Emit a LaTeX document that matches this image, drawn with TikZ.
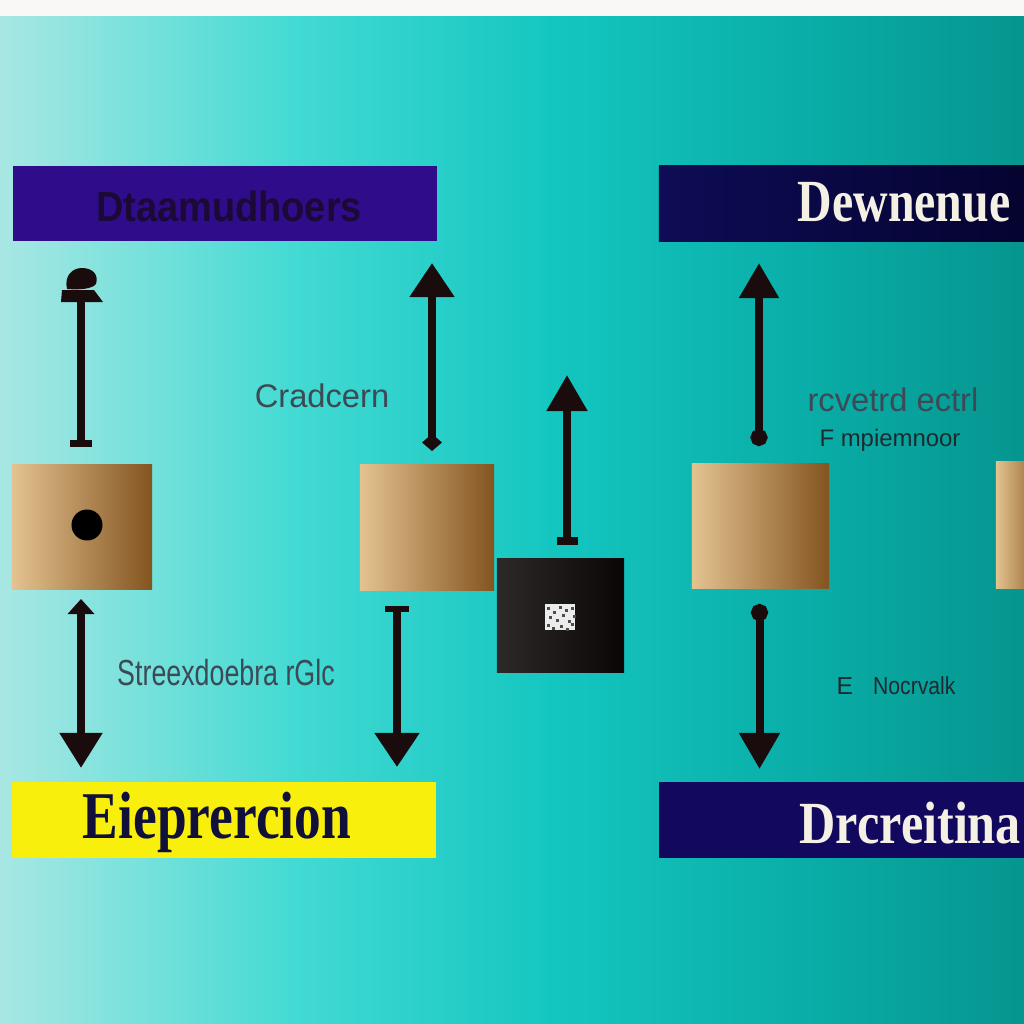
\documentclass[tikz,border=0pt]{standalone}
\usepackage{fontspec}
\usepackage{graphicx}
\setmainfont{Liberation Serif}
\setsansfont{Liberation Sans}
\usetikzlibrary{arrows.meta}
\definecolor{bgA}{HTML}{A8E7E3}
\definecolor{bgB}{HTML}{42DAD3}
\definecolor{bgC}{HTML}{14C6C0}
\definecolor{bgD}{HTML}{0AAEA8}
\definecolor{bgE}{HTML}{06958F}
\definecolor{stripW}{HTML}{FAF8F7}
\definecolor{purpleBox}{HTML}{2F0C8A}
\definecolor{navyL}{HTML}{0E0C55}
\definecolor{navyR}{HTML}{04032E}
\definecolor{navyB}{HTML}{12085E}
\definecolor{yellowBox}{HTML}{F9EF0C}
\definecolor{tanL}{HTML}{E4C390}
\definecolor{tanM}{HTML}{B68D57}
\definecolor{tanR}{HTML}{835420}
\definecolor{blkL}{HTML}{2E2929}
\definecolor{blkR}{HTML}{0A0606}
\definecolor{arrowC}{HTML}{1A0C0C}
\definecolor{labC}{HTML}{3C4A55}
\definecolor{labD}{HTML}{1E2A30}
\definecolor{txtDark}{HTML}{1B0A36}
\definecolor{txtNavy}{HTML}{10103A}
\definecolor{txtCream}{HTML}{F4F0E4}
\pgfdeclarehorizontalshading{bgshade}{100bp}{color(0bp)=(bgA); color(25bp)=(bgA); color(39.5bp)=(bgB); color(52bp)=(bgC); color(64bp)=(bgD); color(75bp)=(bgE); color(100bp)=(bgE)}
\tikzset{
  conn/.style={draw=arrowC, line width=0.08cm},
  tanbox/.style={rectangle, inner sep=0, left color=tanL, middle color=tanM, right color=tanR},
  titlebox/.style={rectangle, inner sep=0, minimum height=0.755cm},
  lab/.style={inner sep=0, text=labC, font=\sffamily},
}
\begin{document}
\begin{tikzpicture}[x=0.01cm,y=-0.01cm]
\useasboundingbox (0,0) rectangle (1024,1024);
\clip (0,0) rectangle (1024,1024);
\fill[stripW] (0,0) rectangle (1024,16);
\shade[shading=bgshade] (0,16) rectangle (1024,1024);

% title boxes
\node[titlebox, fill=purpleBox, minimum width=4.24cm] (tl) at (225,203.5) {};
\node[inner sep=0, anchor=base, text=txtDark, font=\sffamily\bfseries\fontsize{12}{12}\selectfont] (tltext) at (229,221) {\scalebox{0.9}[1]{Dtaamudhoers}};
\node[titlebox, left color=navyL, right color=navyR, minimum width=3.85cm] (tr) at (851.5,203.5) {};
\node[inner sep=0, anchor=base west, text=txtCream, font=\bfseries\fontsize{17}{17}\selectfont] (trtext) at (797,221) {\scalebox{0.8}[1]{Dewnenue}};
\node[titlebox, fill=yellowBox, minimum width=4.24cm, minimum height=0.76cm] (bl) at (224,820) {};
\node[inner sep=0, anchor=base, text=txtNavy, font=\bfseries\fontsize{19}{19}\selectfont] (bltext) at (217,838) {\scalebox{0.8}[1]{Eieprercion}};
\node[titlebox, fill=navyB, minimum width=3.85cm, minimum height=0.76cm] (br) at (851.5,820) {};
\node[inner sep=0, anchor=base west, text=txtCream, font=\bfseries\fontsize{17}{17}\selectfont] (brtext) at (799,843) {\scalebox{0.84}[1]{Drcreitina}};

% tan boxes
\node[tanbox, minimum width=1.40cm, minimum height=1.24cm] (t1) at (82,527) {};
\node[circle, fill=black, inner sep=0, minimum size=0.31cm] (dot) at (87,525) {};
\node[tanbox, minimum width=1.34cm, minimum height=1.25cm] (t2) at (427,527.5) {};
\node[tanbox, minimum width=1.37cm, minimum height=1.24cm] (t3) at (760.5,526) {};
\node[tanbox, minimum width=0.50cm, minimum height=1.26cm] (t4) at (1021,525) {};

% black box with small code
\node[rectangle, inner sep=0, left color=blkL, right color=blkR, minimum width=1.27cm, minimum height=1.13cm] (bk) at (560.5,615.5) {};
\node[rectangle, inner sep=0, fill=white!85!gray, minimum width=0.30cm, minimum height=0.25cm] (qr) at (560,617) {};
\foreach \i/\j in {547/607,553/611,559/606,565/609,571/607,549/616,556/619,562/614,568/620,573/615,547/624,552/627,560/625,566/628,571/623}
  \fill[black!70] (\i,\j) rectangle ++(3,3);

% arrows
\coordinate (a1s) at (81,447); \coordinate (a1e) at (81,300);
\draw[conn, {Rectangle[width=0.22cm,length=0.07cm]}-] (a1s) -- (a1e);
\fill[arrowC] (61,302) -- (103,302) -- (94,290) -- (62,290) -- cycle;
\fill[arrowC] (67,289) .. controls (64,276) and (72,268) .. (82,268) .. controls (92,268) and (99,274) .. (96,284) .. controls (92,289) and (80,290) .. (67,289) -- cycle;

\coordinate (a2s) at (432,451); \coordinate (a2e) at (432,263);
\draw[conn, {Diamond[width=0.2cm,length=0.17cm]}-{Triangle[width=0.43cm,length=0.34cm]}] (a2s) -- (a2e);

\coordinate (a3s) at (567,545); \coordinate (a3e) at (567,375);
\draw[conn, {Rectangle[width=0.21cm,length=0.08cm]}-{Triangle[width=0.39cm,length=0.36cm]}] (a3s) -- (a3e);

\coordinate (a4s) at (759,446); \coordinate (a4e) at (759,263);
\draw[conn, {Circle[length=0.17cm]}-{Triangle[width=0.38cm,length=0.35cm]}] (a4s) -- (a4e);

\coordinate (a5s) at (81,599); \coordinate (a5e) at (81,768);
\draw[conn, {Triangle[width=0.26cm,length=0.15cm]}-{Triangle[width=0.41cm,length=0.35cm]}] (a5s) -- (a5e);

\coordinate (a6s) at (397,606); \coordinate (a6e) at (397,767);
\draw[conn, {Rectangle[width=0.24cm,length=0.06cm]}-{Triangle[width=0.43cm,length=0.34cm]}] (a6s) -- (a6e);

\coordinate (a7s) at (759.5,604); \coordinate (a7e) at (759.5,769);
\draw[conn, {Circle[length=0.17cm]}-{Triangle[width=0.39cm,length=0.36cm]}] (a7s) -- (a7e);

% labels
\node[lab, font=\sffamily\fontsize{9.3}{9.3}\selectfont] (l1) at (322,396) {Cradcern};
\node[lab, font=\sffamily\fontsize{9.3}{9.3}\selectfont] (l2) at (893,400) {rcvetrd ectrl};
\node[lab, text=labD, font=\sffamily\fontsize{6.8}{6.8}\selectfont] (l3) at (890,440) {F mpiemnoor};
\node[lab, font=\sffamily\fontsize{10.3}{10.3}\selectfont] (l4) at (226,673) {\scalebox{0.74}[1]{Streexdoebra rGlc}};
\node[lab, text=labD, font=\sffamily\fontsize{7}{7}\selectfont, anchor=base west] (l5) at (836,694) {E\hspace{0.2cm}\scalebox{0.86}[1]{Nocrvalk}};
\end{tikzpicture}
\end{document}
